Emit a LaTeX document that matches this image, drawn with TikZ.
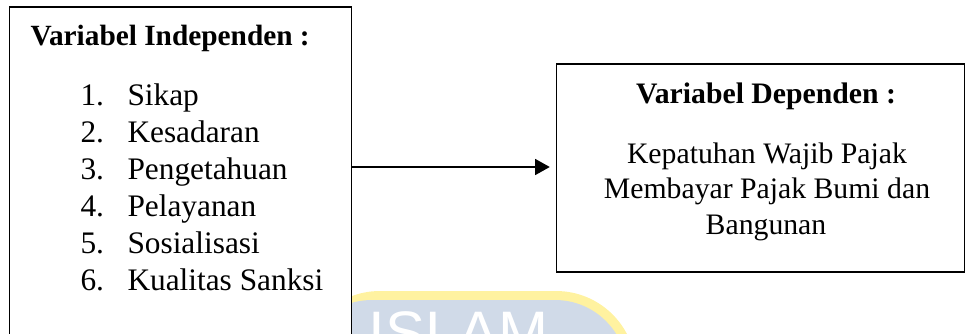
\documentclass[tikz,border=0pt]{standalone}
\usepackage{fontspec}
\setmainfont{Liberation Serif}
\newfontfamily\wmfont{Liberation Sans}
\usetikzlibrary{arrows.meta}

\definecolor{wmblue}{RGB}{208,218,232}
\definecolor{wmyellow}{RGB}{255,242,160}

\tikzset{every picture/.style={line width=0.75pt}}
\tikzset{
  varbox/.style={draw, line width=1.1pt, fill=white, inner sep=0pt},
  vartext/.style={anchor=base west, inner sep=0pt, font=\fontsize{23.5}{28}\selectfont},
  vartitle/.style={anchor=base west, inner sep=0pt, font=\fontsize{22}{26}\selectfont\bfseries},
  deptext/.style={anchor=base, inner sep=0pt, font=\fontsize{22.3}{26}\selectfont}
}

\begin{document}
\begin{tikzpicture}[x=0.75pt,y=0.75pt,yscale=-1,xscale=1]

\clip (0,0) rectangle (966,333);

%Watermark
\fill [wmyellow, rounded corners=60pt] (300,291) rectangle (636,450);
\fill [wmblue, rounded corners=54pt] (300,300) rectangle (627,450);
\node [anchor=base west, inner sep=0pt, text=white, font=\wmfont\fontsize{45}{45}\selectfont] at (368,353) {ISLAM};

%Boxes
\node (indep) [varbox, minimum width=256.5pt, minimum height=270pt] at (180.5,187) {};
\node (dep) [varbox, minimum width=306pt, minimum height=156pt] at (760.5,168) {};

%Arrow
\draw [line width=1.2pt, -{Triangle[length=11pt,width=12pt]}, shorten >=4.5pt] (indep.east |- 0,167) -- (dep.west |- 0,167);

% Text Node
\node (indeptitle) [vartitle] at (30,45) {Variabel Independen :};
% Text Node
\foreach \i/\name [count=\k] in {1/Sikap, 2/Kesadaran, 3/Pengetahuan, 4/Pelayanan, 5/Sosialisasi, 6/Kualitas Sanksi} {
  \node (num\k) [vartext] at (80,{105+37*(\k-1)}) {\i.};
  \node (item\k) [vartext] at (127,{105+37*(\k-1)}) {\name};
}
% Text Node
\node (deptitle) [deptext, font=\fontsize{22.3}{26}\selectfont\bfseries] at (766,103) {Variabel Dependen :};
% Text Node
\node (dep1) [deptext] at (767,163) {Kepatuhan Wajib Pajak};
% Text Node
\node (dep2) [deptext] at (767,198.5) {Membayar Pajak Bumi dan};
% Text Node
\node (dep3) [deptext] at (766,234) {Bangunan};

\end{tikzpicture}
\end{document}
